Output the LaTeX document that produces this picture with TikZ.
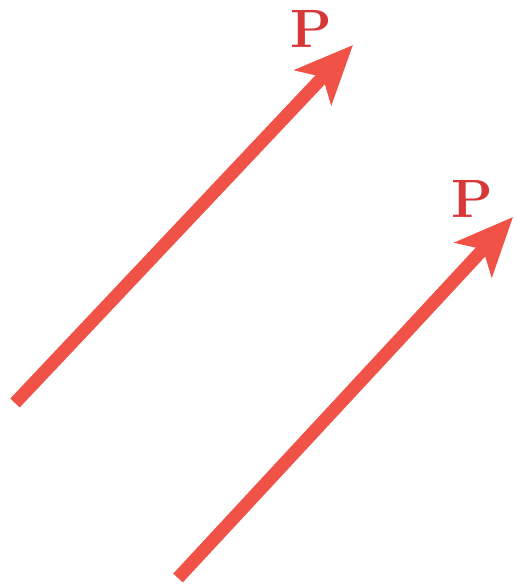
\documentclass[tikz,border=0pt]{standalone}
\usepackage{tikz}
\usetikzlibrary{arrows.meta}
\definecolor{forcered}{RGB}{240,82,72}
\definecolor{labelred}{RGB}{215,55,55}

\begin{document}
\begin{tikzpicture}[
        x=1pt, y=-1pt,
        force/.style={forcered, line width=13pt,
            -{Stealth[length=58pt, width=50pt, inset=14pt]}},
        forcelabel/.style={labelred, font=\fontsize{54}{54}\selectfont\bfseries, inner sep=0pt},
    ]
        \useasboundingbox (0,0) rectangle (516,584);

        % First force
        \coordinate (tailA) at (15,403);
        \coordinate (tipA) at (353,45);
        \draw[force] (tailA) -- (tipA);
        \node[forcelabel] (labelA) at (311,29) {P};

        % Second force, parallel to the first
        \coordinate (tailB) at (178,578);
        \coordinate (tipB) at (513,217);
        \draw[force] (tailB) -- (tipB);
        \node[forcelabel] (labelB) at (472,199) {P};
    \end{tikzpicture}
\end{document}
